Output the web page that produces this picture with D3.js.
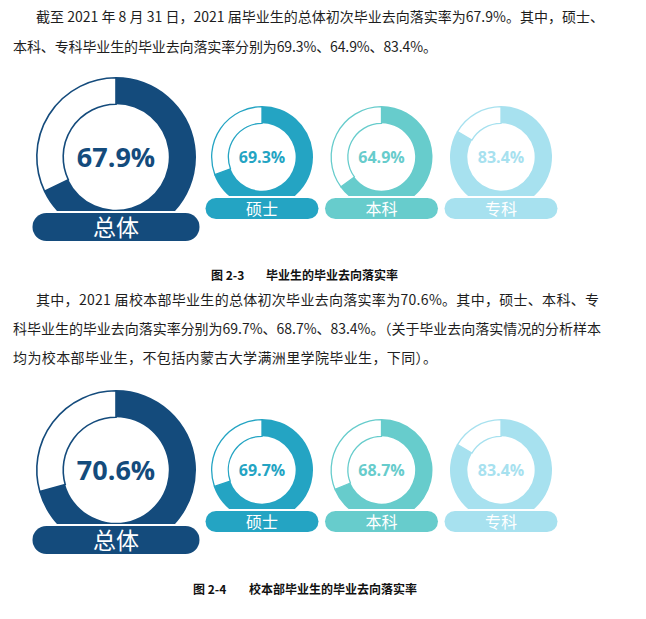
<!DOCTYPE html>
<html>
<head>
<meta charset="utf-8">
<script src="https://cdn.jsdelivr.net/npm/d3@7"></script>
<style>
  body { margin: 0; background: #fff; }
  svg { display: block; }
</style>
</head>
<body>
<div id="chart"></div>
<script>
// data
const groups = ["总体", "硕士", "本科", "专科"];
const ratesAll = [67.9, 69.3, 64.9, 83.4];   // 图 2-3
const ratesMain = [70.6, 69.7, 68.7, 83.4];  // 图 2-4
const captions = [
  { num: "图 2-3", title: "毕业生的毕业去向落实率" },
  { num: "图 2-4", title: "校本部毕业生的毕业去向落实率" }
];

const palette = ["#144b7c", "#24a4c3", "#67cccc", "#a7e1ef"];
const pct = v => v.toFixed(1) + "%";

const W = 646, H = 619;
const svg = d3.select("#chart").append("svg")
  .attr("width", W).attr("height", H)
  .attr("viewBox", `0 0 ${W} ${H}`);

const cjk = "'Noto Sans CJK SC', 'Noto Sans', sans-serif";
const num = "'Open Sans', 'Noto Sans', sans-serif";

// paragraph lines (start x, baseline y, textLength)
const para1 = [
  { x: 36, y: 22, len: 568, t: `截至 2021 年 8 月 31 日，2021 届毕业生的总体初次毕业去向落实率为${pct(ratesAll[0])}。其中，硕士、` },
  { x: 13, y: 52, len: 424, t: `本科、专科毕业生的毕业去向落实率分别为${pct(ratesAll[1])}、${pct(ratesAll[2])}、${pct(ratesAll[3])}。` }
];
const para2 = [
  { x: 36, y: 305, len: 563, t: `其中，2021 届校本部毕业生的总体初次毕业去向落实率为${pct(ratesMain[0])}。其中，硕士、本科、专` },
  { x: 13, y: 334, len: 588, t: `科毕业生的毕业去向落实率分别为${pct(ratesMain[1])}、${pct(ratesMain[2])}、${pct(ratesMain[3])}。（关于毕业去向落实情况的分析样本` },
  { x: 13, y: 363, len: 424, t: `均为校本部毕业生，不包括内蒙古大学满洲里学院毕业生，下同）。` }
];

svg.selectAll("text.para")
  .data(para1.concat(para2))
  .join("text")
  .attr("class", "para")
  .attr("x", d => d.x).attr("y", d => d.y)
  .attr("textLength", d => d.len)
  .attr("lengthAdjust", "spacing")
  .attr("font-family", cjk)
  .attr("font-size", 14)
  .attr("fill", "#1e1e1e")
  .text(d => d.t);

// angle scale
const angle = d3.scaleLinear().domain([0, 100]).range([0, 2 * Math.PI]);
// small donut centres
const xSmall = d3.scalePoint().domain(groups.slice(1)).range([262, 501]);

const big = { cx: 116, r: 80, pillW: 167, pillH: 28, pillTop: 56, fs: 27, lfs: 23, sw: 1.6 };
const small = { r: 51, pillW: 113, pillH: 21, pillTop: 41, fs: 16, lfs: 16, sw: 1.3 };

function drawSet(rates, cy, idx) {
  const g = svg.append("g");
  groups.forEach((name, i) => {
    const s = i === 0 ? big : small;
    const cx = i === 0 ? big.cx : xSmall(name);
    const col = palette[i];
    const r = s.r, ri = r * 0.66;
    const clipId = `clip-${idx}-${i}`;
    g.append("clipPath").attr("id", clipId)
      .append("rect")
      .attr("x", cx - r - 3).attr("y", cy - r - 3)
      .attr("width", 2 * r + 6).attr("height", r + 3 + s.pillTop - 2);

    const d = g.append("g")
      .attr("transform", `translate(${cx},${cy})`);
    const ring = d.append("g").attr("clip-path", `url(#${clipId})`)
      .attr("transform", `translate(${-cx},${-cy})`)
      .append("g").attr("transform", `translate(${cx},${cy})`);

    // remaining part: white with thin outline
    ring.append("path")
      .attr("d", d3.arc()({ innerRadius: ri, outerRadius: r - s.sw / 2,
        startAngle: angle(rates[i]), endAngle: angle(100) }))
      .attr("fill", "#fff")
      .attr("stroke", col)
      .attr("stroke-width", s.sw);
    // filled part
    ring.append("path")
      .attr("d", d3.arc()({ innerRadius: ri, outerRadius: r,
        startAngle: angle(0), endAngle: angle(rates[i]) }))
      .attr("fill", col);

    d.append("text")
      .attr("text-anchor", "middle")
      .attr("dy", "0.36em")
      .attr("font-family", num)
      .attr("font-weight", 700)
      .attr("font-size", s.fs)
      .attr("fill", col)
      .text(pct(rates[i]));

    d.append("rect")
      .attr("x", -s.pillW / 2).attr("y", s.pillTop)
      .attr("width", s.pillW).attr("height", s.pillH)
      .attr("rx", s.pillH / 2)
      .attr("fill", col);
    d.append("text")
      .attr("text-anchor", "middle")
      .attr("x", 0).attr("y", s.pillTop + s.pillH / 2 + 1)
      .attr("dy", "0.36em")
      .attr("font-family", cjk)
      .attr("font-size", s.lfs)
      .attr("fill", "#fff")
      .text(name);
  });
}

drawSet(ratesAll, 157, 0);
drawSet(ratesMain, 470, 1);

// captions
const capPos = [
  { y: 280, nx: 211, tx: 266 },
  { y: 594, nx: 193, tx: 249 }
];
captions.forEach((c, i) => {
  const p = capPos[i];
  svg.append("text").attr("x", p.nx).attr("y", p.y)
    .attr("font-family", cjk).attr("font-weight", 700).attr("font-size", 12)
    .attr("fill", "#111").text(c.num);
  svg.append("text").attr("x", p.tx).attr("y", p.y)
    .attr("font-family", cjk).attr("font-weight", 700).attr("font-size", 12)
    .attr("fill", "#111").text(c.title);
});
</script>
</body>
</html>
